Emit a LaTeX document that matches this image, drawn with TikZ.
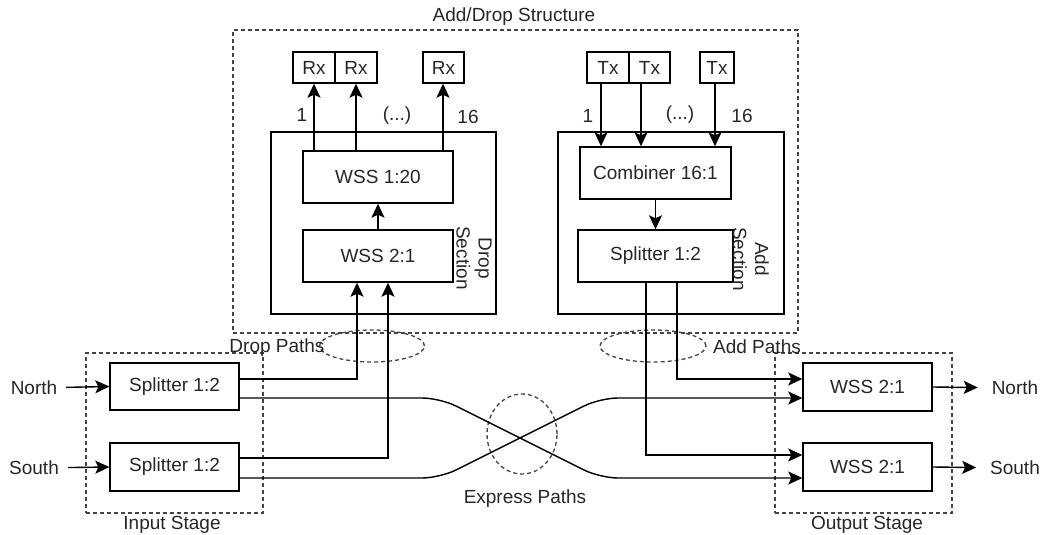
\documentclass[tikz,border=0pt]{standalone}
\usepackage{fontspec}
\setmainfont{Liberation Sans}
\usetikzlibrary{shapes.geometric,arrows.meta}
\definecolor{txt}{HTML}{262626}
\definecolor{dgray}{HTML}{444444}
\begin{document}
\begin{tikzpicture}[x=1pt,y=-1pt,font=\fontsize{19}{22}\selectfont,
  blk/.style={draw=black,line width=1.4pt,inner sep=0pt,text=txt},
  dbox/.style={draw=dgray,dash pattern=on 4pt off 3pt,line width=1.3pt,inner sep=0pt},
  lbl/.style={text=txt,inner sep=0pt},
  arr/.style={line width=1.4pt,-{Stealth[length=14pt,width=13pt,inset=3pt]}},
  wire/.style={line width=1.4pt}]
\useasboundingbox (0,0) rectangle (1045,535);

% Add/Drop structure
\node[dbox,minimum width=565,minimum height=303] (adbox) at (515.5,181.5) {};
\node[lbl] (adtitle) at (514,17) {Add/Drop Structure};

% Drop section
\node[blk,minimum width=225,minimum height=182] (dropsec) at (383.5,223) {};
\node[blk,minimum width=150,minimum height=52] (wss120) at (378,177) {WSS 1:20};
\node[blk,minimum width=150,minimum height=52] (wss21d) at (378,256) {WSS 2:1};
\node[lbl,rotate=-90,align=center,font=\fontsize{19}{22}\selectfont] (droplbl) at (474,258) {Drop\\Section};
\node[blk,minimum width=42,minimum height=31] (rx1) at (314,67.5) {Rx};
\node[blk,minimum width=42,minimum height=31] (rx2) at (356,67.5) {Rx};
\node[blk,minimum width=41,minimum height=31] (rx3) at (443.5,67.5) {Rx};
\node[lbl] (d1) at (302,115) {1};
\node[lbl] (ddots) at (397,116) {(...)};
\node[lbl] (d16) at (468,117) {16};

% Add section
\node[blk,minimum width=226,minimum height=182] (addsec) at (671,223) {};
\node[blk,minimum width=151,minimum height=52] (comb) at (655.5,173) {Combiner 16:1};
\node[blk,minimum width=155,minimum height=52] (spla) at (655.5,256) {Splitter 1:2};
\node[lbl,rotate=-90,align=center,font=\fontsize{19}{22}\selectfont] (addlbl) at (751,259) {Add\\Section};
\node[blk,minimum width=42,minimum height=31] (tx1) at (608,67.5) {Tx};
\node[blk,minimum width=41,minimum height=31] (tx2) at (649.5,67.5) {Tx};
\node[blk,minimum width=34,minimum height=31] (tx3) at (717,67.5) {Tx};
\node[lbl] (a1) at (588,116) {1};
\node[lbl] (adots) at (680,115) {(...)};
\node[lbl] (a16) at (742,116) {16};

% Input stage
\node[dbox,minimum width=177,minimum height=160] (instage) at (174.5,433) {};
\node[lbl] (inlbl) at (172,525) {Input Stage};
\node[blk,minimum width=129,minimum height=47] (nsp) at (174.5,386.5) {Splitter 1:2};
\node[blk,minimum width=129,minimum height=48] (ssp) at (174.5,467) {Splitter 1:2};
\node[lbl,outer xsep=9pt] (nin) at (34,388) {North};
\node[lbl,outer xsep=9pt] (sin) at (34,468) {South};

% Output stage
\node[dbox,minimum width=177,minimum height=160] (outstage) at (863.5,433) {};
\node[lbl] (outlbl) at (867,525) {Output Stage};
\node[blk,minimum width=129,minimum height=48] (nwss) at (867.5,387) {WSS 2:1};
\node[blk,minimum width=129,minimum height=48] (swss) at (867.5,467) {WSS 2:1};
\node[lbl,outer xsep=14pt] (nout) at (1015,388) {North};
\node[lbl,outer xsep=14pt] (sout) at (1015,468) {South};

% Path group ellipses and labels
\node[ellipse,dbox,minimum width=105,minimum height=32] (dropell) at (372,346) {};
\node[ellipse,dbox,minimum width=106,minimum height=32] (addell) at (653,346) {};
\node[ellipse,dbox,minimum width=70,minimum height=80] (expell) at (522,434) {};
\node[lbl] (droppaths) at (277,348) {Drop Paths};
\node[lbl] (addpaths) at (757,347) {Add Paths};
\node[lbl] (exppaths) at (525,499) {Express Paths};

% Inner arrows
\draw[arr] (wss21d.north) -- (wss120.south);
\draw[arr] (comb.south) -- (spla.north);
\draw[arr] (rx1.south |- wss120.north) -- (rx1.south);
\draw[arr] (rx2.south |- wss120.north) -- (rx2.south);
\draw[arr] ([xshift=-0.5pt]rx3.south |- wss120.north) -- ([xshift=-0.5pt]rx3.south);
\draw[arr] ([xshift=-7pt]tx1.south) -- ([xshift=-7pt]tx1.south |- comb.north);
\draw[arr] ([xshift=-8.5pt]tx2.south) -- ([xshift=-8.5pt]tx2.south |- comb.north);
\draw[arr] ([xshift=-2pt]tx3.south) -- ([xshift=-2pt]tx3.south |- comb.north);

% Inputs and outputs
\draw[arr] (nin) -- (nsp.west);
\draw[arr] (sin) -- (ssp.west);
\draw[arr] (nwss.east) -- (nout);
\draw[arr] (swss.east) -- (sout);

% Drop paths
\draw[arr] ([yshift=7.5pt]nsp.east) -| ([xshift=-21pt]wss21d.south);
\draw[arr] ([yshift=9pt]ssp.east) -| ([xshift=10pt]wss21d.south);

% Add paths
\draw[arr] ([xshift=-9.5pt]spla.south) |- ([yshift=12pt]swss.west);
\draw[arr] ([xshift=21.5pt]spla.south) |- ([yshift=8pt]nwss.west);

% Express paths
\coordinate (e1) at (440,398);
\coordinate (e2) at (600,478);
\coordinate (e3) at (440,478);
\coordinate (e4) at (600,398);
\draw[arr,rounded corners=18pt] ([yshift=-11.5pt]nsp.east) -- (e1) -- (e2) -- ([yshift=-11pt]swss.west);
\draw[arr,rounded corners=18pt] ([yshift=-11pt]ssp.east) -- (e3) -- (e4) -- ([yshift=-11pt]nwss.west);
\end{tikzpicture}
\end{document}
